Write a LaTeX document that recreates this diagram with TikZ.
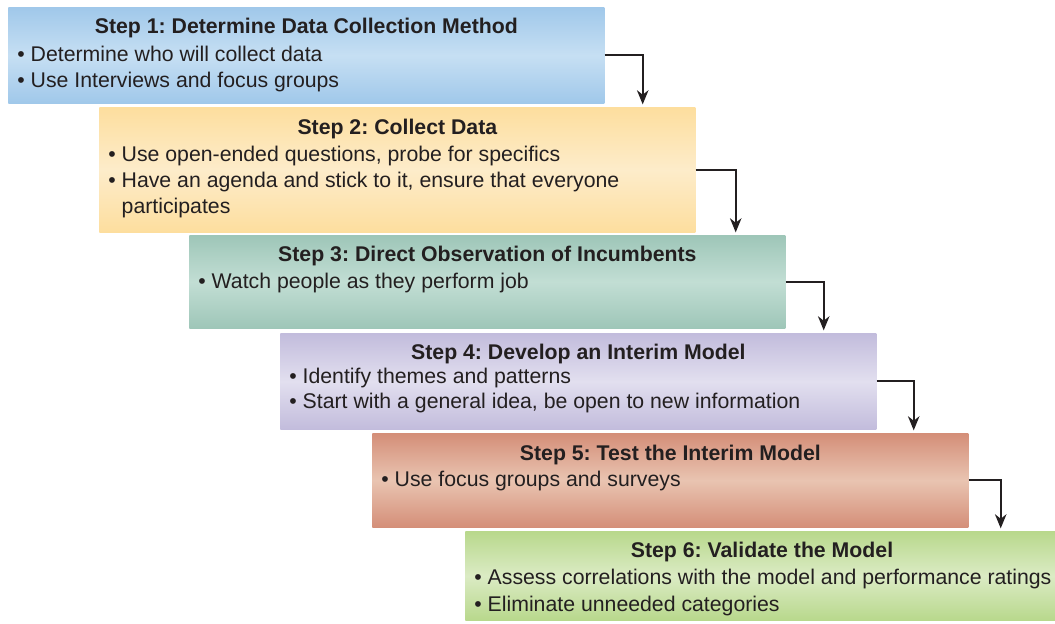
\documentclass[tikz,border=0pt]{standalone}
\usepackage{fontspec}
\setmainfont{Liberation Sans}
\usetikzlibrary{calc,% coordinate arithmetic for the arrow corners
arrows.meta}
\definecolor{ink}{HTML}{231F20}
\definecolor{blueE}{RGB}{160,200,234}
\definecolor{blueM}{RGB}{198,223,243}
\definecolor{yellE}{RGB}{253,222,158}
\definecolor{yellM}{RGB}{253,236,202}
\definecolor{tealE}{RGB}{158,198,184}
\definecolor{tealM}{RGB}{194,222,212}
\definecolor{lavE}{RGB}{194,188,220}
\definecolor{lavM}{RGB}{226,223,239}
\definecolor{salE}{RGB}{212,142,120}
\definecolor{salM}{RGB}{233,196,177}
\definecolor{grnE}{RGB}{184,216,140}
\definecolor{grnM}{RGB}{219,235,196}
\tikzset{every node/.style={font=\fontsize{12.1}{14.7}\selectfont\frenchspacing, text=ink}}
\tikzset{
  stepbox/.style 2 args={rectangle, anchor=north west, inner sep=0pt, minimum width=11.92cm,
    top color=#1, bottom color=#1, middle color=#2},
  steptitle/.style={font=\fontsize{12.1}{14.7}\selectfont\frenchspacing\bfseries, anchor=base, inner sep=0pt},
  item/.style={anchor=base west, inner sep=0pt},
  flow/.style={ink, line width=1.15pt, shorten >=1.5pt, -{Stealth[length=8pt,width=6.5pt,inset=2.5pt]}}
}
\newcommand{\itm}{\textbullet\ }

\begin{document}
\begin{tikzpicture}
  \useasboundingbox (0,0) rectangle (21.1,-12.46);
  % the six steps
  \node[stepbox={blueE}{blueM}, minimum height=1.92cm] (s1) at (0.16,-0.14) {};
  \node[stepbox={yellE}{yellM}, minimum height=2.50cm] (s2) at (1.98,-2.14) {};
  \node[stepbox={tealE}{tealM}, minimum height=1.86cm] (s3) at (3.78,-4.70) {};
  \node[stepbox={lavE}{lavM},   minimum height=1.92cm] (s4) at (5.60,-6.66) {};
  \node[stepbox={salE}{salM},   minimum height=1.88cm] (s5) at (7.44,-8.66) {};
  \node[stepbox={grnE}{grnM},   minimum height=1.78cm] (s6) at (9.30,-10.62) {};

  \node[steptitle] (t1) at ($(s1.north)+(0,-0.52)$) {Step 1: Determine Data Collection Method};
  \node[item] (s1a) at ($(s1.north west)+(0.18,-1.08)$) {\itm Determine who will collect data};
  \node[item] (s1b) at ($(s1.north west)+(0.18,-1.60)$) {\itm Use Interviews and focus groups};

  \node[steptitle] (t2) at ($(s2.north)+(0,-0.54)$) {Step 2: Collect Data};
  \node[item] (s2a) at ($(s2.north west)+(0.18,-1.08)$) {\itm Use open-ended questions, probe for specifics};
  \node[item] (s2b) at ($(s2.north west)+(0.18,-1.60)$) {\itm Have an agenda and stick to it, ensure that everyone};
  \node[item] (s2c) at ($(s2.north west)+(0.18,-2.12)$) {\hphantom{\itm}participates};

  \node[steptitle] (t3) at ($(s3.north)+(0,-0.52)$) {Step 3: Direct Observation of Incumbents};
  \node[item] (s3a) at ($(s3.north west)+(0.18,-1.06)$) {\itm Watch people as they perform job};

  \node[steptitle] (t4) at ($(s4.north)+(0,-0.52)$) {Step 4: Develop an Interim Model};
  \node[item] (s4a) at ($(s4.north west)+(0.18,-1.00)$) {\itm Identify themes and patterns};
  \node[item] (s4b) at ($(s4.north west)+(0.18,-1.50)$) {\itm Start with a general idea, be open to new information};

  \node[steptitle] (t5) at ($(s5.north)+(0,-0.54)$) {Step 5: Test the Interim Model};
  \node[item] (s5a) at ($(s5.north west)+(0.18,-1.06)$) {\itm Use focus groups and surveys};

  \node[steptitle] (t6) at ($(s6.north west)+(5.94,-0.52)$) {Step 6: Validate the Model};
  \node[item] (s6a) at ($(s6.north west)+(0.18,-1.06)$) {\itm Assess correlations with the model and performance ratings};
  \node[item] (s6b) at ($(s6.north west)+(0.18,-1.60)$) {\itm Eliminate unneeded categories};

  % elbow arrows from one step down to the next
  \foreach \a/\b/\d in {s1/s2/0.76, s2/s3/0.80, s3/s4/0.76, s4/s5/0.74, s5/s6/0.64}
    \draw[flow] (\a.east) -| ($(\a.east |- \b.north)+(\d,0)$);
\end{tikzpicture}
\end{document}
